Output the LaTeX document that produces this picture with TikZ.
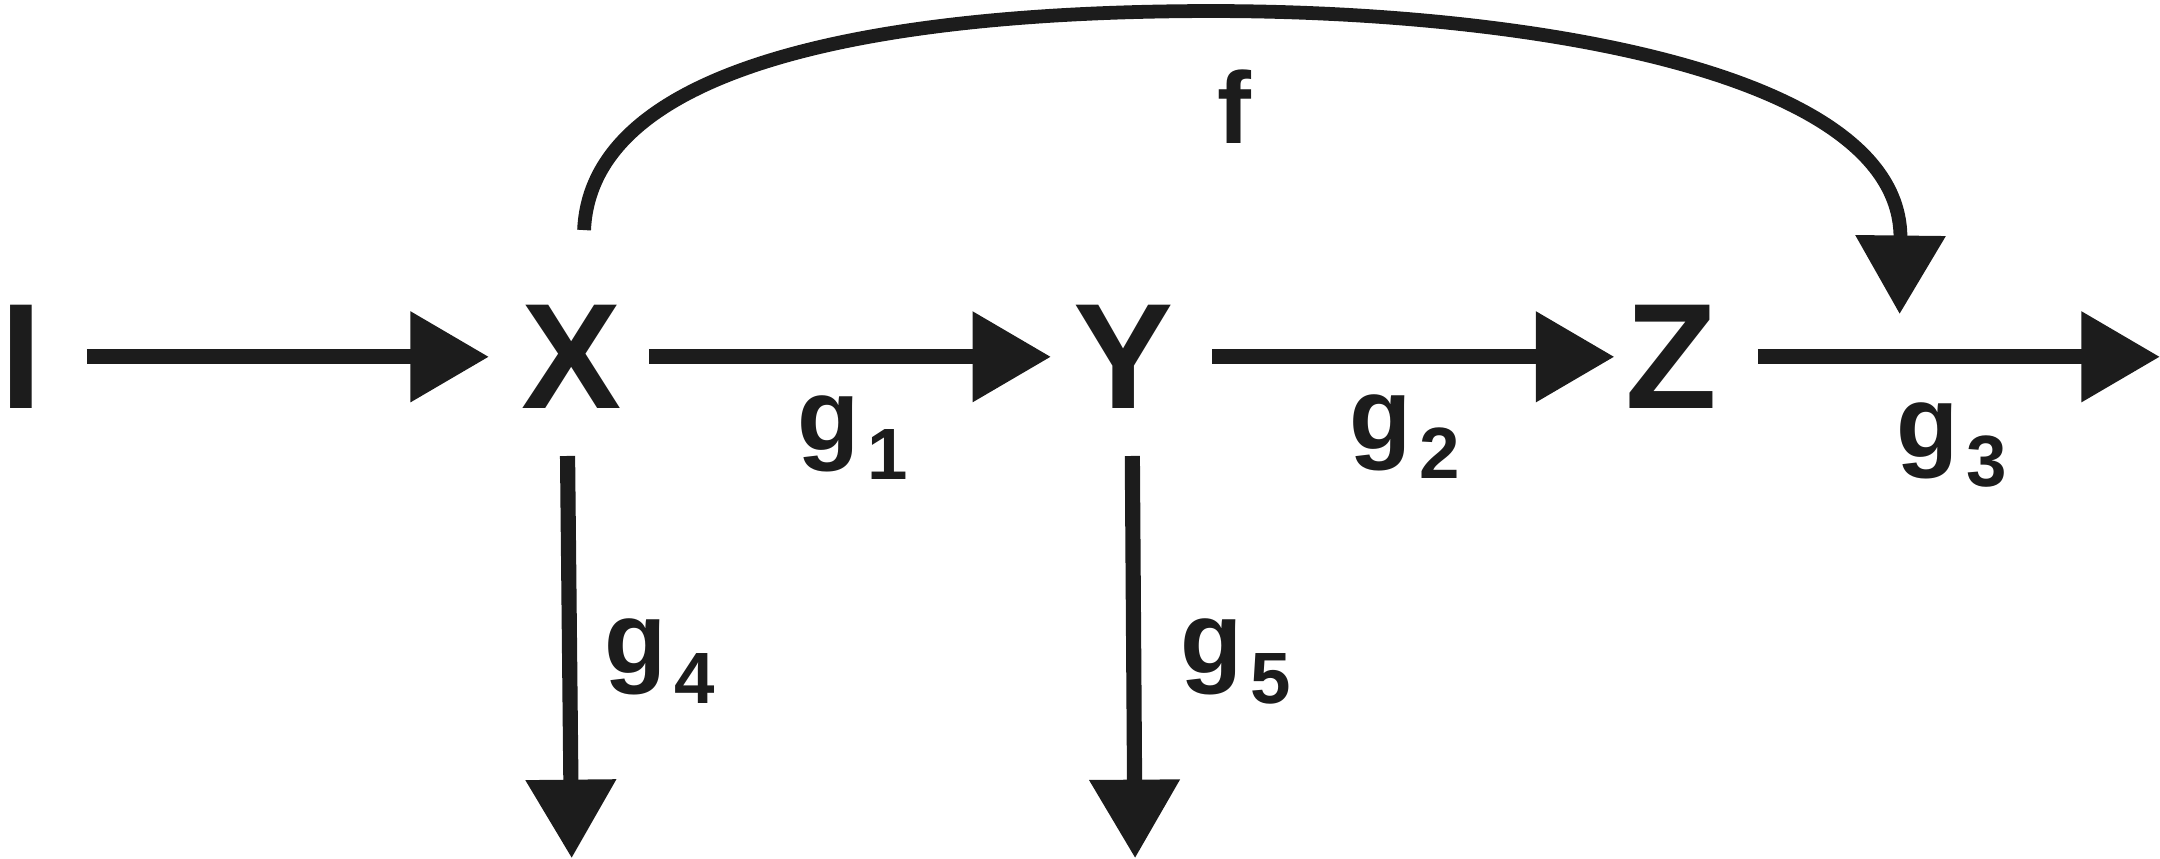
\documentclass[tikz,border=0pt]{standalone}
\usepackage{fontspec}
\setmainfont{Liberation Sans}
\usetikzlibrary{arrows.meta,calc}
\definecolor{ink}{HTML}{1C1C1C}
\tikzset{
  arr/.style={draw=ink,line width=0.11cm,-{Triangle[length=0.57cm,width=0.63cm]}},
  big/.style={font=\fontsize{31}{31}\selectfont\bfseries,text=ink,inner sep=0pt},
  lab/.style={font=\fontsize{21}{21}\selectfont\bfseries,text=ink,inner sep=0pt,anchor=base west},
}
\newcommand{\gsub}[1]{g\hspace{0.08em}\raisebox{-0.29em}{\fontsize{15}{15}\selectfont\bfseries#1}}
\begin{document}
\begin{tikzpicture}[x=0.01cm,y=-0.01cm]
  \useasboundingbox (0,0) rectangle (1568,623);
  \node[big] (I) at (15.5,259) {I};
  \node[big] (X) at (415,259) {X};
  \node[big] (Y) at (816,259) {Y};
  \node[big] (Z) at (1213,259) {Z};
  \coordinate (out) at (1568,259);
  \coordinate (downx) at (415,623);
  \coordinate (downy) at (824,623);
  \coordinate (loop) at (1379,228);

  \draw[arr] ($(I.center)+(47.5,0)$) -- ($(X.center)+(-60,0)$);
  \draw[arr] ($(X.center)+(56,0)$) -- ($(Y.center)+(-53,0)$);
  \draw[arr] ($(Y.center)+(64,0)$) -- ($(Z.center)+(-41,0)$);
  \draw[arr] ($(Z.center)+(63,0)$) -- (out);
  \draw[arr] ($(X.center)+(-3,72)$) -- (downx);
  \draw[arr] ($(Y.center)+(6,72)$) -- (downy);
  \draw[arr,line width=0.1cm] ($(X.center)+(9,-92)$) .. controls (430,30) and (700,8) .. (880,8)
    .. controls (1100,8) and (1381,50) .. (loop);

  \node[lab] (f) at (883,104) {f};
  \node[lab] (g1) at (578,327) {\gsub{1}};
  \node[lab] (g2) at (979,326) {\gsub{2}};
  \node[lab] (g3) at (1376,332) {\gsub{3}};
  \node[lab] (g4) at (438,489) {\gsub{4}};
  \node[lab] (g5) at (856,489) {\gsub{5}};
\end{tikzpicture}
\end{document}
